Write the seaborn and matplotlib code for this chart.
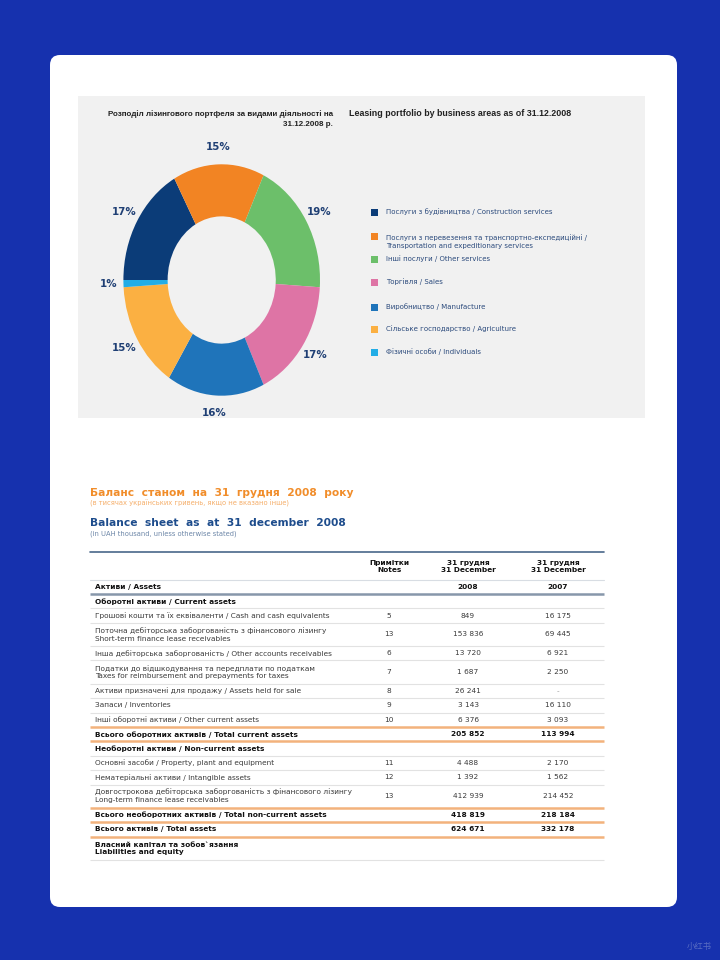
import matplotlib
matplotlib.use("Agg")
import matplotlib.pyplot as plt
import seaborn as sns
from matplotlib.patches import FancyBboxPatch, Rectangle

# ---------------- data ----------------
categories = [
    "Послуги з будівництва / Construction services",
    "Послуги з перевезення та транспортно-експедиційні /\nTransportation and expeditionary services",
    "Інші послуги / Other services",
    "Торгівля / Sales",
    "Виробництво / Manufacture",
    "Сільське господарство / Agriculture",
    "Фізичні особи / Individuals",
]
shares = [17, 15, 19, 17, 16, 15, 1]
slice_colors = ["#0b3c78", "#f28423", "#6cbf6a", "#de74a5", "#1f74ba", "#fbb042", "#22ade6"]

chart_title_ua = ["Розподіл лізингового портфеля за видами діяльності на", "31.12.2008 р."]
chart_title_en = "Leasing portfolio by business areas as of 31.12.2008"

title_ua = "Баланс  станом  на  31  грудня  2008  року"
subtitle_ua = "(в тисячах українських гривень, якщо не вказано інше)"
title_en = "Balance  sheet  as  at  31  december  2008"
subtitle_en = "(in UAH thousand, unless otherwise stated)"

col_notes = "Примітки\nNotes"
col_date = "31 грудня\n31 December"
years = [2008, 2007]

row_labels = [
    "Активи / Assets",
    "Оборотні активи / Current assets",
    "Грошові кошти та їх еквіваленти / Cash and cash equivalents",
    "Поточна дебіторська заборгованість з фінансового лізингу\nShort-term finance lease receivables",
    "Інша дебіторська заборгованість / Other accounts receivables",
    "Податки до відшкодування та передплати по податкам\nTaxes for reimbursement and prepayments for taxes",
    "Активи призначені для продажу / Assets held for sale",
    "Запаси / Inventories",
    "Інші оборотні активи / Other current assets",
    "Всього оборотних активів / Total current assets",
    "Необоротні активи / Non-current assets",
    "Основні засоби / Property, plant and equipment",
    "Нематеріальні активи / Intangible assets",
    "Довгострокова дебіторська заборгованість з фінансового лізингу\nLong-term finance lease receivables",
    "Всього необоротних активів / Total non-current assets",
    "Всього активів / Total assets",
    "Власний капітал та зобов`язання\nLiabilities and equity",
]
row_kind = ["head", "section", "item", "item", "item", "item", "item", "item", "item",
            "total", "section", "item", "item", "item", "total", "total", "section"]
row_notes = [None, None, 5, 13, 6, 7, 8, 9, 10, None, None, 11, 12, 13, None, None, None]
values_2008 = [None, None, 849, 153836, 13720, 1687, 26241, 3143, 6376, 205852,
               None, 4488, 1392, 412939, 418819, 624671, None]
values_2007 = [None, None, 16175, 69445, 6921, 2250, "-", 16110, 3093, 113994,
               None, 2170, 1562, 214452, 218184, 332178, None]

# ---------------- style ----------------
sns.set_theme(style="white")
plt.rcParams["font.family"] = ["DejaVu Sans"]

W, H = 720, 960
fig = plt.figure(figsize=(W / 100, H / 100), dpi=100)
fig.patch.set_facecolor("#1631ae")

bg = fig.add_axes([0, 0, 1, 1])
bg.set_xlim(0, W)
bg.set_ylim(H, 0)
bg.axis("off")

# white card
bg.add_patch(FancyBboxPatch((50 + 10, 55 + 10), 627 - 20, 852 - 20,
                            boxstyle="round,pad=10", fc="white", ec="none"))
# grey chart panel
bg.add_patch(Rectangle((78, 96), 567, 322, fc="#f1f1f1", ec="none"))

# chart header
narrow = ["Liberation Sans Narrow", "Liberation Sans", "DejaVu Sans"]
bg.text(333, 114, chart_title_ua[0], ha="right", va="center", fontsize=5.8,
        color="#222222", fontweight="bold", family=narrow)
bg.text(333, 125, chart_title_ua[1], ha="right", va="center", fontsize=5.8,
        color="#222222", fontweight="bold", family=narrow)
bg.text(349, 114, chart_title_en, ha="left", va="center", fontsize=6.4,
        color="#222222", fontweight="bold", family=narrow)

# donut
cx, cy, rx, ry, lim = 221.7, 280.0, 98.3, 115.7, 1.4
aw, ah = 2 * rx * lim, 2 * ry * lim
pie_ax = fig.add_axes([(cx - aw / 2) / W, (H - cy - ah / 2) / H, aw / W, ah / H])
pie_ax.patch.set_alpha(0)
wedges, _, autotexts = pie_ax.pie(
    shares, colors=slice_colors, startangle=180, counterclock=False,
    wedgeprops=dict(width=0.45, linewidth=0),
    autopct=lambda p: f"{p:.0f}%", pctdistance=1.15,
    textprops=dict(color="#1f3f74", fontsize=7.4, fontweight="bold"))
pie_ax.set_aspect("auto")
pie_ax.set_xlim(-lim, lim)
pie_ax.set_ylim(-lim, lim)

# legend
legend_y = [212, 236, 259, 282, 307, 329, 352]
for lab, col, y in zip(categories, slice_colors, legend_y):
    bg.add_patch(Rectangle((371, y - 3.5), 7, 7, fc=col, ec="none"))
    if "\n" in lab:
        bg.text(386, y - 2.0, lab, ha="left", va="top",
                fontsize=5.0, color="#2b4a7c", linespacing=1.45)
    else:
        bg.text(386, y - 0.5, lab, ha="left", va="center",
                fontsize=5.0, color="#2b4a7c")

# titles
bg.text(90, 493, title_ua, ha="left", va="center", fontsize=7.7,
        color="#f18d2a", fontweight="bold")
bg.text(90, 503.5, subtitle_ua, ha="left", va="center", fontsize=4.85,
        color="#f5ae6a")
bg.text(90, 523, title_en, ha="left", va="center", fontsize=7.7,
        color="#1d4c8c", fontweight="bold")
bg.text(90, 534, subtitle_en, ha="left", va="center", fontsize=4.9,
        color="#6d87a8")

# table
x0, x1 = 90, 604
xl, xn, xa, xb = 95, 389, 468, 558
fs = 5.3
bg.plot([x0, x1], [552, 552], color="#49678a", lw=1.2)
for xc, txt in [(xn, col_notes), (xa, col_date), (xb, col_date)]:
    bg.text(xc, 566.5, txt, ha="center", va="center", fontsize=fs,
            fontweight="bold", color="#111111", linespacing=1.3)
bg.plot([x0, x1], [579.5, 579.5], color="#d8dde3", lw=0.8)


def fmt(v):
    if v is None:
        return ""
    if isinstance(v, str):
        return v
    return f"{v:,}".replace(",", " ")


y = 579.5
for i, lab in enumerate(row_labels):
    h = 23.3 if "\n" in lab else 14.4
    if i == 0:
        h = 14.5
    yc = y + h / 2
    kind = row_kind[i]
    bold = kind in ("head", "section", "total")
    col = "#111111" if bold else "#3a3a3a"
    fw = "bold" if bold else "normal"
    bg.text(xl, yc, lab, ha="left", va="center", fontsize=fs,
            fontweight=fw, color=col, linespacing=1.25)
    if kind == "head":
        bg.text(xa, yc, str(years[0]), ha="center", va="center", fontsize=fs,
                fontweight="bold", color=col)
        bg.text(xb, yc, str(years[1]), ha="center", va="center", fontsize=fs,
                fontweight="bold", color=col)
    else:
        if row_notes[i] is not None:
            bg.text(xn, yc, str(row_notes[i]), ha="center", va="center",
                    fontsize=fs, color=col)
        bg.text(xa, yc, fmt(values_2008[i]), ha="center", va="center", fontsize=fs,
                fontweight=fw, color=col)
        bg.text(xb, yc, fmt(values_2007[i]), ha="center", va="center", fontsize=fs,
                fontweight=fw, color=col if values_2007[i] != "-" else "#999999")
    y += h
    nxt = row_kind[i + 1] if i + 1 < len(row_kind) else None
    if kind == "head":
        lc, lw = "#8797aa", 1.8
    elif kind == "total" or nxt == "total":
        lc, lw = "#f3b27c", 1.8
    else:
        lc, lw = "#e2e2e2", 0.8
    bg.plot([x0, x1], [y, y], color=lc, lw=lw, solid_capstyle="butt")

# watermark
bg.text(699, 946, "小红书", ha="center", va="center", fontsize=6,
        color="#6a7cc8", family=["Noto Sans CJK SC", "DejaVu Sans"], alpha=0.8)

fig.savefig("out.png", dpi=100, facecolor=fig.get_facecolor())
